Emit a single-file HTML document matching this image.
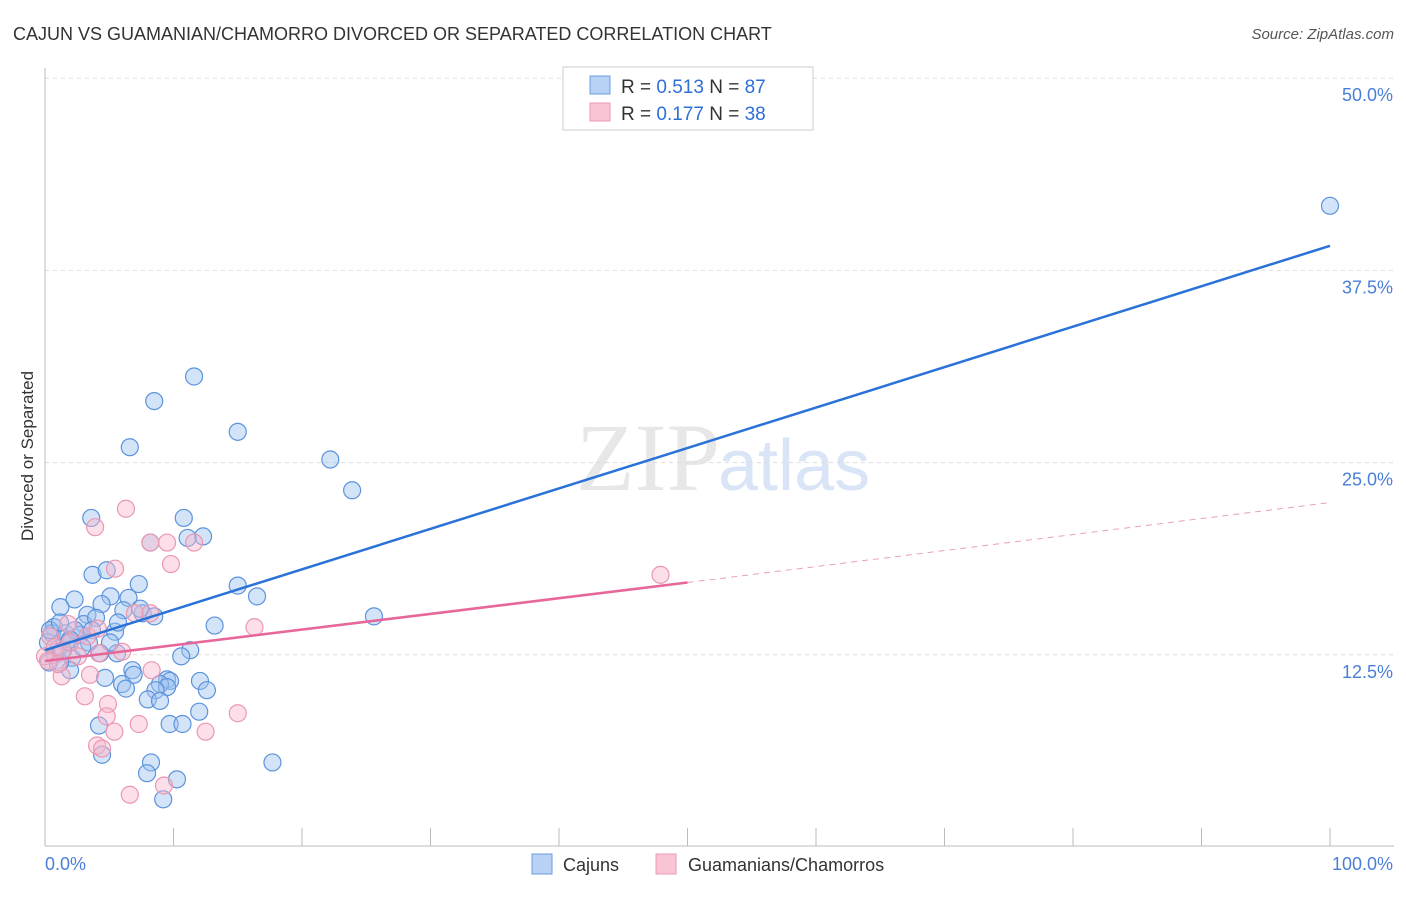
<!DOCTYPE html>
<html><head><meta charset="utf-8"><style>
body{margin:0;background:#fff;font-family:"Liberation Sans",sans-serif;}
</style></head><body>
<svg width="1406" height="892" xmlns="http://www.w3.org/2000/svg" font-family="Liberation Sans, sans-serif">
<text x="13" y="40" font-size="18" fill="#333">CAJUN VS GUAMANIAN/CHAMORRO DIVORCED OR SEPARATED CORRELATION CHART</text>
<text x="1394" y="39" font-size="15" fill="#555" text-anchor="end" font-style="italic">Source: ZipAtlas.com</text>
<text x="720" y="490" font-size="96" fill="#ddd" text-anchor="end" font-family="Liberation Serif, serif" opacity="0.7">ZIP</text>
<text x="718" y="490" font-size="72" fill="#c9d9f3" opacity="0.7">atlas</text>
<g id="grid"></g>
<line x1="45" y1="68" x2="45" y2="846" stroke="#bbb"/>
<line x1="45" y1="846" x2="1394" y2="846" stroke="#bbb"/>
<g id="xticks"></g>
<text transform="translate(33,456) rotate(-90)" font-size="17" fill="#333" text-anchor="middle">Divorced or Separated</text>
<text x="45" y="870" font-size="18" fill="#4a7fd8">0.0%</text>
<text x="1393" y="870" font-size="18" fill="#4a7fd8" text-anchor="end">100.0%</text>
<g id="pts"></g>
<g id="lines"></g>
<g>
<rect x="563" y="67" width="250" height="63" fill="#fff" stroke="#ccc"/>
<rect x="590" y="76" width="20" height="18" fill="#b8d2f5" stroke="#6a9ce0"/>
<rect x="590" y="103" width="20" height="18" fill="#f9c5d5" stroke="#ec9ab4"/>
<text x="621" y="93" font-size="19" fill="#333">R = <tspan fill="#2e6fd6">0.513</tspan>   N = <tspan fill="#2e6fd6">87</tspan></text>
<text x="621" y="120" font-size="19" fill="#333">R = <tspan fill="#2e6fd6">0.177</tspan>   N = <tspan fill="#2e6fd6">38</tspan></text>
</g>
<g>
<rect x="532" y="854" width="20" height="20" fill="#b8d2f5" stroke="#6a9ce0"/>
<text x="563" y="871" font-size="18" fill="#333">Cajuns</text>
<rect x="656" y="854" width="20" height="20" fill="#f9c5d5" stroke="#ec9ab4"/>
<text x="688" y="871" font-size="18" fill="#333">Guamanians/Chamorros</text>
</g>
</svg>
<script>
const yTicks=[12.5,25,37.5,50];
const yTickLabels=["12.5%","25.0%","37.5%","50.0%"];
const cajunX=[100,11.6,8.5,6.6,15,22.2,23.9,3.6,10.8,12.3,11.1,8.2,3.7,4.8,7.3,15,16.5,2.3,5.1,1.2,4.4,6.5,7.6,8.5,6.1,3.3,3,3.97,25.6,13.2,0.7,0.54,1.56,2.72,1.8,3.66,5.45,5.68,3.42,1.01,0.78,0.31,5.6,2.1,11.3,10.6,6.8,6.9,1.95,1.17,4.67,6,6.3,9.5,9.73,8.95,9.5,12.06,12.6,8.6,8,8.95,4.2,12,9.7,10.7,4.44,8.25,7.94,10.27,9.2,17.7,0.23,0.39,1.17,2.33,5.06,4.28,7.4,1.4,1.95,2.9];
const cajunY=[41.7,30.6,29,26,27,25.2,23.2,21.4,21.4,20.2,20.1,19.8,17.7,18,17.1,17,16.3,16.1,16.3,15.6,15.8,16.2,15.2,15,15.4,15.1,14.5,14.9,15,14.4,14.3,13.9,13.9,13.8,13.3,14.1,14,14.6,13.3,12.9,12.5,12,12.6,12.3,12.8,12.4,11.5,11.2,11.5,12,11,10.6,10.3,10.9,10.8,10.6,10.4,10.8,10.2,10.2,9.6,9.5,7.9,8.8,8,8,6,5.5,4.8,4.4,3.1,5.5,13.3,14.1,14.6,14.1,13.3,12.6,15.5,12.8,13.5,13]; 
const guamX=[6.3,3.9,8.2,9.5,11.6,9.8,5.45,47.9,7,16.3,1.8,3.3,4.1,0.39,0.78,0,1.3,2.56,4.2,6,8.3,3.5,1.3,3.1,4.9,4.8,15,7.3,5.4,12.5,4.05,4.44,9.26,6.6,0.23,1.95,1.01,8.2];
const guamY=[22,20.8,19.8,19.8,19.8,18.4,18.1,17.7,15.2,14.3,14.5,13.7,14.2,13.7,13,12.4,12.7,12.4,12.6,12.7,11.5,11.2,11.1,9.8,9.3,8.5,8.7,8,7.5,7.5,6.6,6.4,4,3.4,12.1,13.3,11.9,15.2];
const cajunTrend=[[0,12.8],[100,39.1]];
const guamTrend=[[0,12.1],[50,17.2]];
const guamTrendExt=[[50,17.2],[100,22.4]];
const NS="http://www.w3.org/2000/svg";
const X=v=>45+v/100*1285, Y=v=>847-v/12.5*192.2;
function mk(t,a,p){const e=document.createElementNS(NS,t);for(const k in a)e.setAttribute(k,a[k]);document.getElementById(p).appendChild(e);return e;}
yTicks.forEach((t,i)=>{
 const l=mk('line',{x1:45,x2:1394,y1:Y(t),y2:Y(t),stroke:'#ddd','stroke-dasharray':'4,4'},'grid');
 
 
 const tx=mk('text',{x:1393,y:Y(t)+23,'font-size':18,fill:'#4a7fd8','text-anchor':'end'},'grid');
 tx.textContent=yTickLabels[i];
 
 
});
for(let i=1;i<=10;i++){const l=mk('line',{x1:X(i*10),x2:X(i*10),y1:828,y2:846,stroke:'#bbb'},'xticks');
 
 }
cajunX.forEach((v,i)=>{const c=mk('circle',{cx:X(v),cy:Y(cajunY[i]),r:8.5,fill:'rgba(160,196,240,0.45)',stroke:'#5b93dd','stroke-width':1.2},'pts');
 
 });
guamX.forEach((v,i)=>{const c=mk('circle',{cx:X(v),cy:Y(guamY[i]),r:8.5,fill:'rgba(248,185,205,0.45)',stroke:'#ea98b2','stroke-width':1.2},'pts');
 
 });
let l=mk('line',{x1:X(cajunTrend[0][0]),y1:Y(cajunTrend[0][1]),x2:X(cajunTrend[1][0]),y2:Y(cajunTrend[1][1]),stroke:'#2a72d8','stroke-width':2.5},'lines');


l=mk('line',{x1:X(guamTrend[0][0]),y1:Y(guamTrend[0][1]),x2:X(guamTrend[1][0]),y2:Y(guamTrend[1][1]),stroke:'#e8679a','stroke-width':2.5},'lines');


l=mk('line',{x1:X(guamTrendExt[0][0]),y1:Y(guamTrendExt[0][1]),x2:X(guamTrendExt[1][0]),y2:Y(guamTrendExt[1][1]),stroke:'#e8a0b8','stroke-width':1,'stroke-dasharray':'6,5'},'lines');


</script>
</body></html>
